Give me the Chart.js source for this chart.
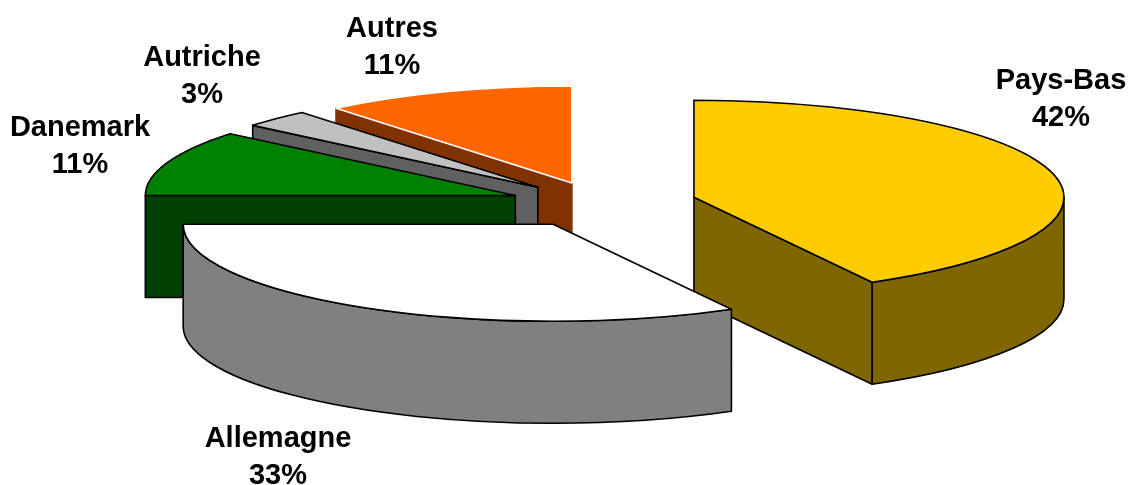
<!DOCTYPE html>
<html>
<head>
<meta charset="utf-8">
<style>
    html, body { margin: 0; padding: 0; background: #ffffff; }
    #box { width: 1130px; height: 485px; position: relative; }
</style>
<script src="https://cdn.jsdelivr.net/npm/chart.js@4"></script>
</head>
<body>
<div id="box"><canvas id="pieChart"></canvas></div>
<script>
// DATA

const countries = ["Pays-Bas", "Allemagne", "Danemark", "Autriche", "Autres"];
const shares = [42, 33, 11, 3, 11];

// STYLES

const topColors = ["#ffcc00", "#ffffff", "#008000", "#c0c0c0", "#ff6600"];
const sideColors = ["#806600", "#808080", "#004000", "#606060", "#803300"];
const topBorders = ["#000000", "#000000", "#000000", "#000000", "#ffffff"];
const sideBorders = ["#000000", "#000000", "#000000", "#000000", "#803300"];

// how far each slice is pulled out of the pie, in px along the long axis
const explode = [97, 92, 90, 88, 83];

// back to front
const paintOrder = [4, 3, 2, 0, 1];

// label anchors: x centre and first baseline
const labelX = [1061, 278, 80, 202, 392];
const labelY = [89, 447, 136, 66, 37];
const labelLine = 37;

// 3D look of the pie
const view = { cx: 600, cy: 203.5, rx: 370, ry: 97, depth: 102 };

function drawSides(ctx, arc, ax, ay, i) {
    const s = arc.startAngle;
    const e = arc.endAngle;
    const d = view.depth;

    ctx.fillStyle = sideColors[i];
    ctx.strokeStyle = sideBorders[i];

    // flat cut faces, only the ones turned to the viewer
    [[s, Math.cos(s) < -0.001], [e, Math.cos(e) > 0.001]].forEach(([a, visible]) => {
        if (!visible) return;
        const x = ax + Math.cos(a) * view.rx;
        const y = ay + Math.sin(a) * view.ry;
        ctx.beginPath();
        ctx.moveTo(ax, ay);
        ctx.lineTo(x, y);
        ctx.lineTo(x, y + d);
        ctx.lineTo(ax, ay + d);
        ctx.closePath();
        ctx.fill();
        ctx.stroke();
    });

    // round outer wall, front half only
    const from = Math.max(s, 0);
    const to = Math.min(e, Math.PI);
    if (to > from) {
        ctx.beginPath();
        ctx.ellipse(ax, ay, view.rx, view.ry, 0, from, to);
        ctx.ellipse(ax, ay + d, view.rx, view.ry, 0, to, from, true);
        ctx.closePath();
        ctx.fill();
        ctx.stroke();
    }
}

const pie3d = {
    id: "pie3d",
    beforeDatasetsDraw(chart) {
        const ctx = chart.ctx;
        const arcs = chart.getDatasetMeta(0).data;

        ctx.save();
        ctx.lineWidth = 1.6;
        ctx.lineJoin = "round";

        paintOrder.forEach(i => {
            const arc = arcs[i];
            const mid = (arc.startAngle + arc.endAngle) / 2;
            const ax = view.cx + Math.cos(mid) * explode[i];
            const ay = view.cy + Math.sin(mid) * explode[i] * view.ry / view.rx;

            drawSides(ctx, arc, ax, ay, i);

            // top face is the library's own arc, squashed
            ctx.save();
            ctx.translate(ax, ay);
            ctx.scale(view.rx / arc.outerRadius, view.ry / arc.outerRadius);
            ctx.translate(-arc.x, -arc.y);
            arc.draw(ctx);
            ctx.restore();

            ctx.strokeStyle = topBorders[i];
            ctx.beginPath();
            ctx.moveTo(ax, ay);
            ctx.ellipse(ax, ay, view.rx, view.ry, 0, arc.startAngle, arc.endAngle);
            ctx.closePath();
            ctx.stroke();
        });

        ctx.restore();
        return false;
    },
    afterDraw(chart) {
        const ctx = chart.ctx;
        ctx.save();
        ctx.fillStyle = "#000000";
        ctx.font = "bold 29px 'Liberation Sans'";
        ctx.textAlign = "center";
        countries.forEach((name, i) => {
            ctx.fillText(name, labelX[i], labelY[i]);
            ctx.fillText(shares[i] + "%", labelX[i], labelY[i] + labelLine);
        });
        ctx.restore();
    }
};

new Chart(document.getElementById("pieChart"), {
    type: "pie",
    data: {
        labels: countries,
        datasets: [{
            data: shares,
            backgroundColor: topColors,
            borderWidth: 0
        }]
    },
    options: {
        responsive: true,
        maintainAspectRatio: false,
        animation: false,
        events: [],
        plugins: {
            legend: { display: false },
            tooltip: { enabled: false }
        }
    },
    plugins: [pie3d]
});
</script>
</body>
</html>
